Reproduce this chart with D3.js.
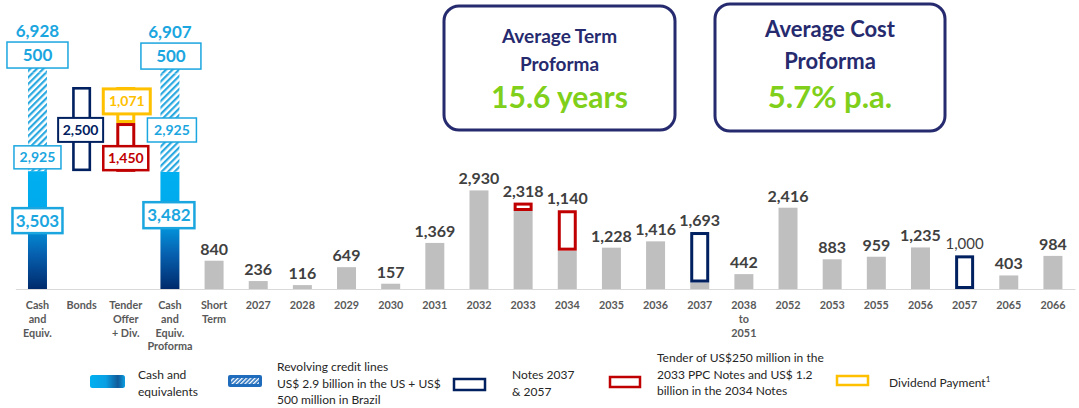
<!DOCTYPE html>
<html><head><meta charset="utf-8">
<script src="https://cdn.jsdelivr.net/npm/d3@7"></script>
<style>
body{margin:0;background:#fff}
svg{display:block}
text{font-family:Lato,"Open Sans","DejaVu Sans",sans-serif}
</style>
</head><body>
<svg id="c" width="1079" height="408"></svg>
<script>
// ---------------- DATA ----------------
const waterfallCats = ["Cash and Equiv.", "Bonds", "Tender Offer + Div.", "Cash and Equiv. Proforma"];
const maturityCats = ["Short Term","2027","2028","2029","2030","2031","2032","2033","2034","2035","2036","2037","2038 to 2051","2052","2053","2055","2056","2057","2065","2066"];
const tickLabels = ["Cash\nand\nEquiv.","Bonds","Tender\nOffer\n+ Div.","Cash\nand\nEquiv.\nProforma","Short\nTerm","2027","2028","2029","2030","2031","2032","2033","2034","2035","2036","2037","2038\nto\n2051","2052","2053","2055","2056","2057","2065","2066"];

const cashEquiv = 3503;
const revolvingUS = 2925;
const revolvingBrazil = 500;
const newBonds = 2500;
const tenderPaid = 1450;
const dividendPaid = 1071;
const cashProforma = 3482;

const maturityDebt  = [840,236,116,649,157,1369,2930,2318,1140,1228,1416,193,442,2416,883,959,1235,0,403,984];
const tenderedNotes = [0,0,0,0,0,0,0,250,1200,0,0,0,0,0,0,0,0,0,0,0];
const newNotes      = [0,0,0,0,0,0,0,0,0,0,0,1500,0,0,0,0,0,1000,0,0];

const kpiTitles = [["Average Term","Proforma"],["Average Cost","Proforma"]];
const kpiValues = ["15.6 years","5.7% p.a."];

// ---------------- STYLE ----------------
const C = {
  cyan:"#1ba6df", gray:"#bfbfbf", label:"#404040", tick:"#595959",
  navy:"#002060", red:"#c00000", yellow:"#ffc000", title:"#262a6e", green:"#80cf1a", legend:"#262626"
};
const fmt = d3.format(",");

const svg = d3.select("#c");
const defs = svg.append("defs");

const g1 = defs.append("linearGradient").attr("id","cashGrad").attr("x1",0).attr("y1",0).attr("x2",0).attr("y2",1);
[[0,"#00b0f0"],[0.38,"#00a8ec"],[0.7,"#0661b0"],[1,"#002a6c"]].forEach(s=>g1.append("stop").attr("offset",s[0]).attr("stop-color",s[1]));

const g2 = defs.append("linearGradient").attr("id","cashLeg").attr("x1",0).attr("y1",0).attr("x2",1).attr("y2",0);
[[0,"#00b0f0"],[0.45,"#0aa0e4"],[0.8,"#125a98"],[1,"#0aa0e4"]].forEach(s=>g2.append("stop").attr("offset",s[0]).attr("stop-color",s[1]));

const p1 = defs.append("pattern").attr("id","hatch").attr("patternUnits","userSpaceOnUse")
  .attr("width",4.6).attr("height",4.6).attr("patternTransform","rotate(45)");
p1.append("rect").attr("width",4.6).attr("height",4.6).attr("fill","#fff");
p1.append("rect").attr("width",2.2).attr("height",4.6).attr("fill","#2aa8e0");

const p2 = defs.append("pattern").attr("id","hatchLeg").attr("patternUnits","userSpaceOnUse")
  .attr("width",3).attr("height",3).attr("patternTransform","rotate(45)");
p2.append("rect").attr("width",3).attr("height",3).attr("fill","#1f6cbc");
p2.append("rect").attr("width",1.4).attr("height",3).attr("fill","#fff");

// ---------------- SCALES ----------------
const categories = waterfallCats.concat(maturityCats);
const x = d3.scaleBand().domain(categories).range([15.4, 1075]).paddingInner(0.57).paddingOuter(0.285);
const y = d3.scaleLinear().domain([0, 7000]).range([289, 53.45]);
const bw = x.bandwidth();
const cx = c => x(c) + bw/2;

// axis
const ax = svg.append("g").attr("transform",`translate(0,${y(0)})`)
  .call(d3.axisBottom(x).tickSize(0).tickSizeOuter(0).tickFormat(""));
ax.select(".domain").attr("stroke","#d9d9d9").attr("stroke-width",1.2);
ax.selectAll(".tick text").each(function(d,i){
  const t = d3.select(this).attr("y",null).attr("dy",null).text(null)
    .attr("fill",C.tick).attr("font-size","10.8px").attr("font-weight","bold");
  tickLabels[i].split("\n").forEach((l,j)=>t.append("tspan").attr("x",0).attr("y",20+j*13.8).text(l));
});

// helpers
function solid(cat, v0, v1, fill){
  svg.append("rect").attr("x",x(cat)).attr("width",bw).attr("y",y(v1)).attr("height",y(v0)-y(v1)).attr("fill",fill);
}
function hollow(cat, v0, v1, color, sw){
  svg.append("rect").attr("x",x(cat)+sw/2).attr("width",bw-sw).attr("y",y(v1)+sw/2)
    .attr("height",Math.max(0,y(v0)-y(v1)-sw)).attr("fill","none").attr("stroke",color).attr("stroke-width",sw);
}
function labelBox(xc, yc, w, h, txt, color, fs, sw){
  svg.append("rect").attr("x",xc-w/2).attr("y",yc-h/2).attr("width",w).attr("height",h)
    .attr("fill","#fff").attr("stroke",color).attr("stroke-width",sw);
  svg.append("text").attr("x",xc).attr("y",yc).attr("dy","0.36em").attr("text-anchor","middle")
    .attr("fill",color).attr("font-weight","bold").attr("font-size",fs+"px").text(txt);
}

// ---------------- WATERFALL ----------------
const [cCash, cBonds, cTender, cPro] = waterfallCats;
const cashTop = cashEquiv + revolvingUS + revolvingBrazil;
const afterBonds = cashEquiv + newBonds;
const afterDiv = afterBonds - dividendPaid;
const proTop = cashProforma + revolvingUS + revolvingBrazil;

solid(cCash, 0, cashEquiv, "url(#cashGrad)");
solid(cCash, cashEquiv, cashEquiv + revolvingUS, "url(#hatch)");
solid(cCash, cashEquiv + revolvingUS, cashTop, "url(#hatch)");
solid(cPro, 0, cashProforma, "url(#cashGrad)");
solid(cPro, cashProforma, cashProforma + revolvingUS, "url(#hatch)");
solid(cPro, cashProforma + revolvingUS, proTop, "url(#hatch)");

hollow(cBonds, cashEquiv, afterBonds, C.navy, 2.6);
hollow(cTender, afterDiv, afterBonds, C.yellow, 3);
hollow(cTender, afterDiv - tenderPaid, afterDiv, C.red, 3);

// label boxes (anchored at fractions of each segment)
labelBox(cx(cCash), y(cashEquiv + revolvingUS + 1.05*revolvingBrazil), 61, 26, fmt(revolvingBrazil), C.cyan, 17, 1.5);
labelBox(cx(cCash), y(cashEquiv + 0.14*revolvingUS), 47, 23, fmt(revolvingUS), C.cyan, 14, 1.5);
labelBox(cx(cCash), y(0.58*cashEquiv), 50, 25, fmt(cashEquiv), C.cyan, 17, 2.5);
labelBox(cx(cPro)+1, y(cashProforma + revolvingUS + 1.03*revolvingBrazil), 60, 26, fmt(revolvingBrazil), C.cyan, 17, 1.5);
labelBox(cx(cPro)+2, y(cashProforma + 0.425*revolvingUS), 49, 24, fmt(revolvingUS), C.cyan, 14, 1.5);
labelBox(cx(cPro)-1, y(0.63*cashProforma), 51, 26, fmt(cashProforma), C.cyan, 17, 2.5);
labelBox(cx(cBonds)-1, y(cashEquiv + 0.49*newBonds), 45, 24, fmt(newBonds), C.navy, 14, 2);
labelBox(cx(cTender)+1, y(afterDiv + 0.6*dividendPaid), 47, 25, fmt(dividendPaid), C.yellow, 14, 3);
labelBox(cx(cTender), y(afterDiv - tenderPaid + 0.28*tenderPaid), 45, 24, fmt(tenderPaid), C.red, 14, 2.5);

[[cCash, cashTop],[cPro, proTop]].forEach(([c,v])=>{
  svg.append("text").attr("x",cx(c)).attr("y",y(v)-19).attr("text-anchor","middle")
    .attr("fill",C.cyan).attr("font-weight","bold").attr("font-size","17px").text(fmt(v));
});

// ---------------- MATURITIES ----------------
maturityCats.forEach((c,i)=>{
  const d = maturityDebt[i], t = tenderedNotes[i], n = newNotes[i];
  if (d > 0) solid(c, 0, d, C.gray);
  if (t > 0) hollow(c, d, d + t, C.red, 3);
  if (n > 0) hollow(c, d, d + n, C.navy, 3);
  const top = d + t + n;
  const isNew = (n > 0 && d === 0);
  svg.append("text").attr("x",cx(c)).attr("y",y(top)-6).attr("text-anchor","middle")
    .attr("fill",C.label).attr("font-weight",isNew?"normal":"bold").attr("font-size",isNew?"15px":"16px")
    .text(fmt(d + n));
});

// ---------------- KPI BOXES ----------------
const kpiBoxes = [{x:444,y:6,w:231,h:124,fs:[19,19,30],base:[43,71,108]},{x:715,y:4,w:230,h:127,fs:[22,22,31],base:[37,69,108]}];
kpiBoxes.forEach((b,i)=>{
  svg.append("rect").attr("x",b.x).attr("y",b.y).attr("width",b.w).attr("height",b.h).attr("rx",15)
    .attr("fill","#fff").attr("stroke",C.title).attr("stroke-width",3);
  const xc = b.x + b.w/2;
  kpiTitles[i].forEach((t,j)=>svg.append("text").attr("x",xc).attr("y",b.base[j]).attr("text-anchor","middle")
    .attr("fill",C.title).attr("font-weight","bold").attr("font-size",b.fs[j]+"px").text(t));
  svg.append("text").attr("x",xc).attr("y",b.base[2]).attr("text-anchor","middle")
    .attr("fill",C.green).attr("font-weight","bold").attr("font-size",b.fs[2]+"px").text(kpiValues[i]);
});

// ---------------- LEGEND ----------------
const lg = svg.append("g").attr("font-size","12px").attr("fill",C.legend);
function legText(x0, ys, lines){
  lines.forEach((l,j)=>lg.append("text").attr("x",x0).attr("y",ys+j*16.5).attr("fill",C.legend).text(l));
}
lg.append("rect").attr("x",90).attr("y",375).attr("width",35).attr("height",13).attr("rx",2.5).attr("fill","url(#cashLeg)");
legText(138, 379, ["Cash and","equivalents"]);
lg.append("rect").attr("x",228).attr("y",375).attr("width",34).attr("height",12).attr("rx",2).attr("fill","#1f6cbc");
lg.append("rect").attr("x",231).attr("y",378).attr("width",28).attr("height",6).attr("fill","url(#hatchLeg)");
legText(277, 371, ["Revolving credit lines","US$ 2.9 billion in the US + US$","500 million in Brazil"]);
lg.append("rect").attr("x",454).attr("y",379).attr("width",31).attr("height",11).attr("fill","none").attr("stroke",C.navy).attr("stroke-width",2.5);
legText(512, 379, ["Notes 2037","& 2057"]);
lg.append("rect").attr("x",610).attr("y",377).attr("width",30).attr("height",10).attr("fill","none").attr("stroke",C.red).attr("stroke-width",2.5);
legText(657, 362, ["Tender of US$250 million in the","2033 PPC Notes and US$ 1.2","billion in the 2034 Notes"]);
lg.append("rect").attr("x",837).attr("y",376).attr("width",31).attr("height",9).attr("fill","none").attr("stroke",C.yellow).attr("stroke-width",2.5);
const dv = lg.append("text").attr("x",889).attr("y",387).attr("fill",C.legend).text("Dividend Payment");
dv.append("tspan").attr("font-size","8px").attr("dy",-5).text("1");
</script>
</body></html>
